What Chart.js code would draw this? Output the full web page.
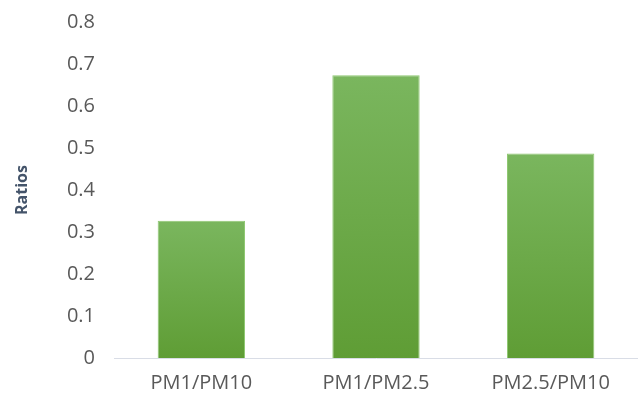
<!DOCTYPE html>
<html>
<head>
<meta charset="utf-8">
<script src="https://cdn.jsdelivr.net/npm/chart.js@4/dist/chart.umd.min.js"></script>
<style>
  html, body { margin: 0; padding: 0; background: #fff; }
  #wrap { width: 638px; height: 397px; }
</style>
</head>
<body>
<div id="wrap"><canvas id="chart"></canvas></div>
<script>
// particle size ratios
var categories = ['PM1/PM10', 'PM1/PM2.5', 'PM2.5/PM10'];
var ratios = [0.327, 0.673, 0.487];
var yMax = 0.8;
var yStep = 0.1;

var textColor = '#595959';
var fontFamily = "'Open Sans', sans-serif";

// each bar gets its own vertical fill, lighter on top
function barFill(ctx) {
    var chart = ctx.chart;
    if (!chart.chartArea || !chart.scales.y) {
        return '#6aab44';
    }
    var y = chart.scales.y;
    var top = y.getPixelForValue(ratios[ctx.dataIndex]);
    var bottom = y.getPixelForValue(0);
    var g = chart.ctx.createLinearGradient(0, top, 0, bottom);
    g.addColorStop(0, '#7ab65e');
    g.addColorStop(1, '#5f9d35');
    return g;
}

new Chart(document.getElementById('chart'), {
    type: 'bar',
    data: {
        labels: categories,
        datasets: [{
            data: ratios,
            backgroundColor: barFill,
            borderColor: '#8fc872',
            borderWidth: 1,
            borderSkipped: 'bottom',
            categoryPercentage: 1,
            barPercentage: 0.5
        }]
    },
    options: {
        responsive: true,
        maintainAspectRatio: false,
        animation: false,
        layout: { padding: { top: 22, right: 0, left: 0, bottom: 0 } },
        plugins: {
            legend: { display: false },
            tooltip: { enabled: false }
        },
        scales: {
            x: {
                grid: { display: false, drawTicks: false },
                border: { display: true, color: '#d9dde6', width: 1 },
                ticks: {
                    color: textColor,
                    font: { family: fontFamily, size: 20 },
                    padding: 13
                },
                afterFit: function(scale) { scale.height = 39; }
            },
            y: {
                min: 0,
                max: yMax,
                grid: { display: false, drawTicks: false },
                border: { display: false },
                ticks: {
                    stepSize: yStep,
                    color: textColor,
                    padding: 19,
                    font: { family: fontFamily, size: 20 },
                    callback: function(v) { return v === 0 ? '0' : v.toFixed(1); }
                },
                title: {
                    display: true,
                    text: 'Ratios',
                    color: '#44546a',
                    font: { family: fontFamily, size: 16, weight: 'bold' },
                    padding: { top: 13, bottom: 0 }
                },
                afterFit: function(scale) {
                    scale.width = 114;
                    // let the top tick label overhang the plot edge
                    scale.paddingTop = 0;
                    scale.paddingBottom = 0;
                }
            }
        }
    }
});
</script>
</body>
</html>
